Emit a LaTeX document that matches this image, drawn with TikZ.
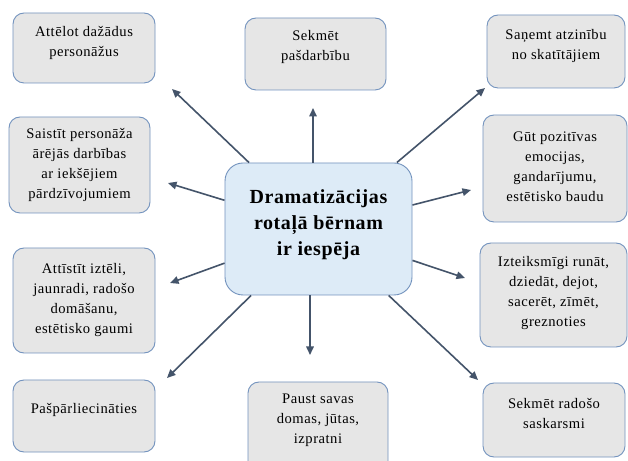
\documentclass[tikz,border=0pt]{standalone}
\usepackage{fontspec}
\setmainfont{Liberation Serif}
\usetikzlibrary{arrows.meta}
\definecolor{boxborder}{HTML}{7393BE}
\definecolor{boxfill}{HTML}{E6E6E6}
\definecolor{ctrfill}{HTML}{DDEBF7}
\definecolor{arrowcol}{HTML}{44546A}
\tikzset{
  boxshape/.style={draw=boxborder, fill=boxfill, line width=0.9pt, rounded corners=11pt, inner sep=0pt},
  ctrshape/.style={draw=boxborder, fill=ctrfill, line width=0.9pt, rounded corners=18pt, inner sep=0pt,
     minimum width=187pt, minimum height=132pt},
  txt/.style={align=center, inner sep=0pt, text=black,
     font=\fontsize{14.6}{20}\selectfont\addfontfeature{LetterSpace=3.5}},
  ctrtxt/.style={align=center, inner sep=0pt, text=black,
     font=\fontsize{20}{26}\selectfont\bfseries\addfontfeature{LetterSpace=3}},
  arr/.style={draw=arrowcol, line width=1.6pt, -{Triangle[length=8.5pt,width=7.5pt]}}
}
\begin{document}
\begin{tikzpicture}[x=1pt,y=1pt]
\clip (0,0) rectangle (628,460);
\fill[white] (0,0) rectangle (628,460);
% boxes
\node[boxshape, minimum width=142pt, minimum height=70pt] (a) at (84,412) {};
\node[boxshape, minimum width=141pt, minimum height=72pt] (b) at (315.5,406) {};
\node[boxshape, minimum width=138pt, minimum height=73pt] (c) at (556,408.5) {};
\node[boxshape, minimum width=141pt, minimum height=96pt] (d) at (79.5,295) {};
\node[boxshape, minimum width=144pt, minimum height=107pt] (e) at (555,291.5) {};
\node[boxshape, minimum width=142pt, minimum height=105pt] (f) at (84,159.5) {};
\node[boxshape, minimum width=147pt, minimum height=104pt] (g) at (553.5,165) {};
\node[boxshape, minimum width=142pt, minimum height=72pt] (h) at (84,44) {};
\node[boxshape, minimum width=140pt, minimum height=90pt] (i) at (318,33) {};
\node[boxshape, minimum width=142pt, minimum height=74pt] (j) at (554,40) {};
\node[ctrshape] (ctr) at (318.5,231) {};
% texts
\node[txt] (at) at (84,417) {Attēlot dažādus\\personāžus};
\node[txt] (bt) at (315.5,413) {Sekmēt\\pašdarbību};
\node[txt] (ct) at (556,414) {Saņemt atzinību\\no skatītājiem};
\node[txt] (dt) at (79.5,295) {Saistīt personāža\\ārējās darbības\\ar iekšējiem\\pārdzīvojumiem};
\node[txt] (et) at (555,293) {Gūt pozitīvas\\emocijas,\\gandarījumu,\\estētisko baudu};
\node[txt] (ft) at (84,159.5) {Attīstīt iztēli,\\jaunradi, radošo\\domāšanu,\\estētisko gaumi};
\node[txt] (gt) at (553.5,166.5) {Izteiksmīgi runāt,\\dziedāt, dejot,\\sacerēt, zīmēt,\\greznoties};
\node[txt] (ht) at (84,50) {Pašpārliecināties};
\node[txt] (it) at (318,40) {Paust savas\\domas, jūtas,\\izpratni};
\node[txt] (jt) at (554,47) {Sekmēt radošo\\saskarsmi};
\node[ctrtxt] (ctrt) at (318.5,235) {Dramatizācijas\\rotaļā bērnam\\ir iespēja};
% arrow heads
\coordinate (ha) at (172,371);
\coordinate (hb) at (313,352);
\coordinate (hc) at (485,372);
\coordinate (hd) at (168,277);
\coordinate (he) at (471,270);
\coordinate (hf) at (170,177);
\coordinate (hg) at (465,182);
\coordinate (hh) at (167,82);
\coordinate (hi) at (310,105);
\coordinate (hj) at (478,80);
% arrows
\draw[arr] (ctr) -- (ha);
\draw[arr] (hb |- ctr.north) -- (hb);
\draw[arr] (ctr) -- (hc);
\draw[arr] (ctr) -- (hd);
\draw[arr] (ctr) -- (he);
\draw[arr] (ctr) -- (hf);
\draw[arr] (ctr) -- (hg);
\draw[arr] (ctr) -- (hh);
\draw[arr] (hi |- ctr.south) -- (hi);
\draw[arr] (ctr) -- (hj);
\end{tikzpicture}
\end{document}
